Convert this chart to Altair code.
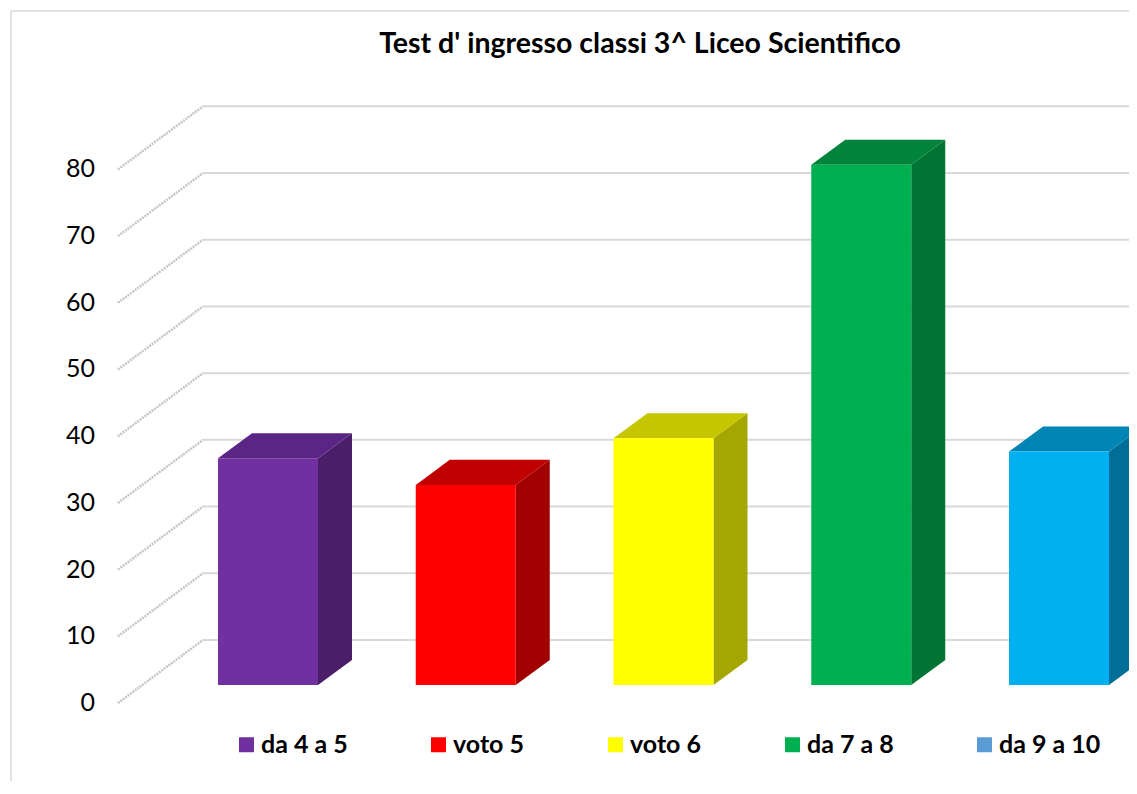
import altair as alt
import pandas as pd

# ---- data ----
categories = ["da 4 a 5", "voto 5", "voto 6", "da 7 a 8", "da 9 a 10"]
values = [34, 30, 37, 78, 35]
tick_values = [0, 10, 20, 30, 40, 50, 60, 70, 80]
title_text = "Test d' ingresso classi 3^ Liceo Scientifico"

# ---- styles ----
front_colors = ["#7030A0", "#FF0000", "#FFFF00", "#00B050", "#00B0F0"]
side_colors = ["#4A1E69", "#A20000", "#A6A600", "#007433", "#006E97"]
top_colors = ["#5A2585", "#C00000", "#C6C600", "#00843B", "#0085B5"]
legend_colors = ["#7030A0", "#FF0000", "#FFFF00", "#00B050", "#5B9BD5"]

bars = pd.DataFrame({"cat": categories, "value": values,
                     "idx": list(range(len(categories)))})
grid = pd.DataFrame({"tick": tick_values})

# ---- layout constants (pixels on x, data units on y) ----
PLOT_W, PLOT_H, Y_MAX = 1011, 607, 91
X0, STEP, BW = 100, 197.75, 100
DX, DY = 34, 3.75          # bar depth
BASE = 2.7                 # bar floor offset
WALL_DX, WALL_DY = 85, 9.45

xs = alt.Scale(domain=[0, PLOT_W], nice=False, zero=False)
ys = alt.Scale(domain=[0, Y_MAX], nice=False, zero=False)

base = alt.Chart(bars).transform_calculate(
    left=f"{X0} + {STEP} * datum.idx"
).transform_calculate(
    right=f"datum.left + {BW}",
    bottom=f"{BASE}",
    top=f"{BASE} + datum.value",
)

expanded = base.transform_calculate(k="[0, 1]").transform_flatten(["k"])

front = base.mark_rect().encode(
    x=alt.X("left:Q", scale=xs, axis=None),
    x2="right:Q",
    y=alt.Y("bottom:Q", scale=ys, axis=None),
    y2="top:Q",
    fill=alt.Fill("cat:N", scale=alt.Scale(domain=categories, range=front_colors),
                  legend=None),
)

side = expanded.transform_calculate(
    sx=f"datum.right + {DX} * datum.k",
    sy0=f"datum.bottom + {DY} * datum.k",
    sy1=f"datum.top + {DY} * datum.k",
).mark_area(clip=True, interpolate="linear").encode(
    x=alt.X("sx:Q", scale=xs, axis=None),
    y=alt.Y("sy0:Q", scale=ys, axis=None),
    y2="sy1:Q",
    detail="cat:N",
    fill=alt.Fill("cat:N", scale=alt.Scale(domain=categories, range=side_colors),
                  legend=None),
)

topf = expanded.transform_calculate(
    tx0=f"datum.left + {DX} * datum.k",
    tx1=f"datum.right + {DX} * datum.k",
    ty=f"datum.top + {DY} * datum.k",
).mark_area(clip=True, orient="horizontal", interpolate="linear").encode(
    y=alt.Y("ty:Q", scale=ys, axis=None),
    x=alt.X("tx0:Q", scale=xs, axis=None),
    x2="tx1:Q",
    detail="cat:N",
    fill=alt.Fill("cat:N", scale=alt.Scale(domain=categories, range=top_colors),
                  legend=None),
)

legend_carrier = base.transform_calculate(
    cx=f"datum.left + {BW} / 2", cy=f"{BASE} + 4"
).mark_square(size=100, opacity=1).encode(
    x=alt.X("cx:Q", scale=xs, axis=None),
    y=alt.Y("cy:Q", scale=ys, axis=None),
    color=alt.Color("cat:N", sort=categories,
                    scale=alt.Scale(domain=categories, range=legend_colors),
                    legend=alt.Legend(title=None, orient="none", legendX=116,
                                      legendY=636, direction="horizontal",
                                      symbolType="square", symbolSize=225,
                                      symbolStrokeWidth=0, labelFont="Lato",
                                      labelFontSize=25, labelFontWeight="bold",
                                      labelColor="black", labelOffset=2,
                                      columnPadding=78, labelLimit=300)),
)

gbase = alt.Chart(grid).transform_calculate(
    wy=f"datum.tick + {WALL_DY}", x0="0", x1=f"{WALL_DX}", xe=f"{PLOT_W}"
)

wall = gbase.mark_rule(color="#D9D9D9", strokeWidth=2).encode(
    x=alt.X("x1:Q", scale=xs, axis=None),
    x2="xe:Q",
    y=alt.Y("wy:Q", scale=ys, axis=None),
)

diag = gbase.mark_rule(color="#C6C6C6", strokeWidth=2.5, strokeDash=[2, 1]).encode(
    x=alt.X("x0:Q", scale=xs, axis=None),
    x2="x1:Q",
    y=alt.Y("tick:Q", scale=ys, axis=None),
    y2="wy:Q",
)

ylabels = gbase.mark_text(
    align="right", baseline="middle", dx=-23, font="Lato", fontSize=25,
    color="black"
).encode(
    x=alt.X("x0:Q", scale=xs, axis=None),
    y=alt.Y("tick:Q", scale=ys, axis=None),
    text="tick:Q",
)

title = alt.Chart(alt.Data(values=[{"t": title_text}])).mark_text(
    align="center", baseline="alphabetic", font="Lato", fontSize=28.5,
    fontWeight="bold", color="black"
).encode(
    text="t:N", x=alt.value(522), y=alt.value(-43)
)

border = alt.Chart(alt.Data(values=[{}])).mark_rect(
    fillOpacity=0, stroke="#D9D9D9", strokeWidth=1.5
).encode(
    x=alt.value(-107), x2=alt.value(1100), y=alt.value(-85), y2=alt.value(800)
)

chart = alt.layer(
    border, wall, diag, ylabels, title, legend_carrier, side, topf, front
).resolve_scale(
    fill="independent"
).properties(
    width=PLOT_W,
    height=PLOT_H,
    autosize=alt.AutoSizeParams(type="none"),
    padding={"left": 110, "top": 88, "right": 0, "bottom": 78},
    background="white",
).configure_view(stroke=None)

chart.save("out.html", embed_options={"renderer": "svg", "actions": False})
